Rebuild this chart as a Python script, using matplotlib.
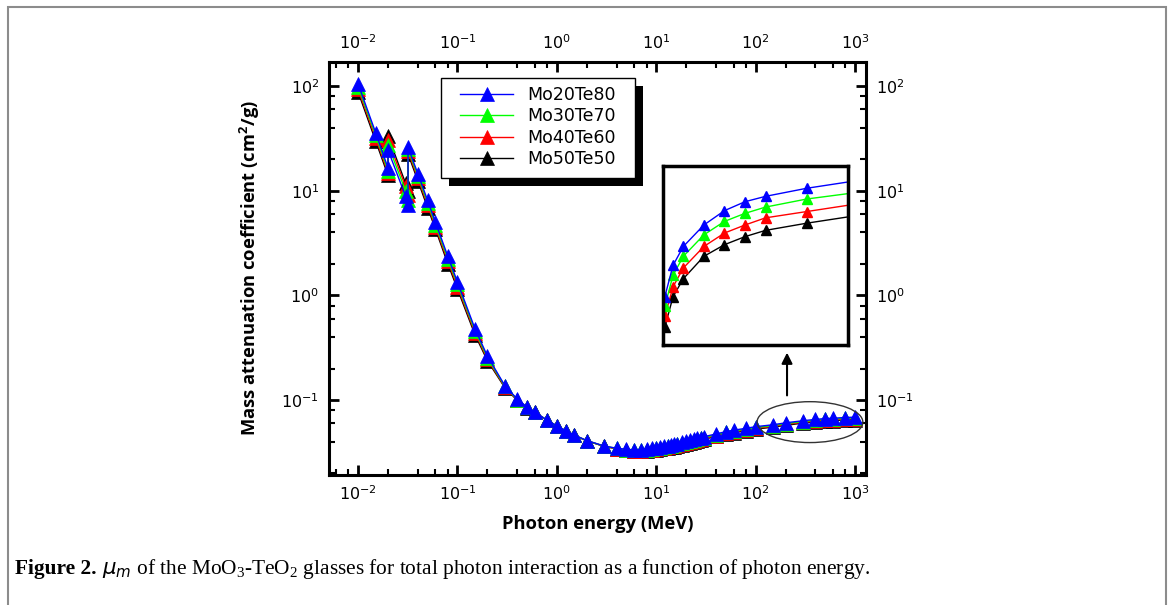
import numpy as np
import matplotlib
matplotlib.use("Agg")
import matplotlib.pyplot as plt
from matplotlib.patches import Rectangle, Ellipse
from matplotlib.ticker import LogLocator, NullFormatter

# ------------------------------
# data
# ------------------------------
energy = [0.01, 0.015, 0.02, 0.02, 0.03, 0.0318, 0.0318, 0.04, 0.05, 0.06, 0.08,
          0.1, 0.15, 0.2, 0.3, 0.4, 0.5, 0.6, 0.8,
          1.0, 1.25, 1.5, 2, 3, 4, 5, 6, 7, 8, 9,
          10, 11, 12, 13, 14, 15, 16,
          18, 20, 22, 24, 26, 28, 30,
          40, 50, 60, 80,
          100, 150, 200, 300, 400, 500, 600, 800, 1000]

mo20te80 = [105, 36, 16.5, 24.5, 8.9, 7.3, 26, 14.5, 8.1, 5.0, 2.36,
            1.34, 0.48, 0.263, 0.137, 0.102, 0.0857, 0.0766, 0.0641,
            0.0566, 0.0505, 0.0462, 0.0410, 0.0363, 0.0346, 0.0338, 0.0334, 0.0335, 0.0340, 0.0345,
            0.0350, 0.0356, 0.0361, 0.0367, 0.0372, 0.0377, 0.0382,
            0.0393, 0.0403, 0.0412, 0.0421, 0.0430, 0.0438, 0.0445,
            0.0474, 0.0498, 0.0515, 0.0536,
            0.0556, 0.0580, 0.0605, 0.0634, 0.0652, 0.0665, 0.0670, 0.0680, 0.0686]

mo30te70 = [99, 34, 15.6, 27.5, 10.0, 8.2, 25, 13.8, 7.7, 4.75, 2.24,
            1.28, 0.46, 0.254, 0.135, 0.101, 0.0854, 0.0764, 0.0640,
            0.0565, 0.0504, 0.0461, 0.0409, 0.0362, 0.0344, 0.0335, 0.0331, 0.0331, 0.0336, 0.0340,
            0.0345, 0.0350, 0.0355, 0.0361, 0.0366, 0.0371, 0.0376,
            0.0386, 0.0396, 0.0405, 0.0414, 0.0422, 0.0430, 0.0437,
            0.0466, 0.0490, 0.0506, 0.0527,
            0.0546, 0.0570, 0.0594, 0.0623, 0.0641, 0.0654, 0.0659, 0.0669, 0.0675]

mo40te60 = [93, 32, 14.8, 30.5, 11.0, 9.1, 23.8, 13.1, 7.3, 4.5, 2.12,
            1.21, 0.44, 0.246, 0.133, 0.100, 0.0850, 0.0762, 0.0639,
            0.0565, 0.0503, 0.0460, 0.0408, 0.0361, 0.0342, 0.0333, 0.0328, 0.0328, 0.0332, 0.0336,
            0.0340, 0.0345, 0.0350, 0.0355, 0.0360, 0.0365, 0.0370,
            0.0379, 0.0389, 0.0398, 0.0406, 0.0414, 0.0422, 0.0429,
            0.0457, 0.0481, 0.0497, 0.0518,
            0.0537, 0.0560, 0.0584, 0.0612, 0.0629, 0.0642, 0.0647, 0.0657, 0.0663]

mo50te50 = [88, 30, 14.0, 33.5, 11.8, 10.0, 22.5, 12.4, 6.9, 4.3, 2.0,
            1.15, 0.42, 0.238, 0.131, 0.099, 0.0846, 0.0760, 0.0638,
            0.0564, 0.0502, 0.0459, 0.0407, 0.0360, 0.0341, 0.0331, 0.0326, 0.0325, 0.0328, 0.0332,
            0.0336, 0.0340, 0.0345, 0.0350, 0.0355, 0.0359, 0.0364,
            0.0373, 0.0382, 0.0391, 0.0399, 0.0407, 0.0414, 0.0421,
            0.0448, 0.0471, 0.0487, 0.0508,
            0.0527, 0.0550, 0.0573, 0.0601, 0.0618, 0.0630, 0.0635, 0.0645, 0.0651]

# inset (zoom of the high energy part, linear axes, no ticks)
inset_x = [10, 50, 100, 200, 300, 400, 500, 700, 900]
inset_mo20te80 = [0.0554, 0.0589, 0.0610, 0.0634, 0.0650, 0.0660, 0.0666, 0.0675, 0.0682]
inset_mo30te70 = [0.0543, 0.0578, 0.0599, 0.0623, 0.0638, 0.0647, 0.0654, 0.0663, 0.0669]
inset_mo40te60 = [0.0532, 0.0565, 0.0586, 0.0610, 0.0625, 0.0634, 0.0642, 0.0649, 0.0656]
inset_mo50te50 = [0.0520, 0.0554, 0.0574, 0.0599, 0.0612, 0.0621, 0.0628, 0.0636, 0.0643]

labels = ["Mo20Te80", "Mo30Te70", "Mo40Te60", "Mo50Te50"]
colors = ["#0000ff", "#00ff00", "#ff0000", "#000000"]

# ------------------------------
# figure
# ------------------------------
plt.rcParams["font.family"] = ["DejaVu Sans"]

fig = plt.figure(figsize=(11.71, 6.05), dpi=100)
ax = fig.add_axes([0.281, 0.2149, 0.4585, 0.6826])

series = [mo20te80, mo30te70, mo40te60, mo50te50]
# black first, blue last (on top)
for vals, lab, col in reversed(list(zip(series, labels, colors))):
    ax.plot(energy, vals, color=col, lw=1.0, marker="^", ms=9.5,
            markeredgewidth=0.5, markeredgecolor=col, label=lab)

ax.set_xscale("log")
ax.set_yscale("log")
ax.set_xlim(0.0051, 1290)
ax.set_ylim(0.0192, 170)

for axis in (ax.xaxis, ax.yaxis):
    axis.set_major_locator(LogLocator(base=10, numticks=20))
    axis.set_minor_locator(LogLocator(base=10, subs=[2, 4, 6, 8], numticks=20))
    axis.set_minor_formatter(NullFormatter())

ax.tick_params(which="both", direction="in", top=True, right=True,
               labeltop=True, labelright=True, labelsize=11.5)
ax.tick_params(which="major", length=7, width=2, pad=7)
ax.tick_params(which="minor", length=4, width=1.5)
for sp in ax.spines.values():
    sp.set_linewidth(2.2)

ax.set_xlabel("Photon energy (MeV)", fontsize=13.2, fontweight="bold",
              family="Open Sans", labelpad=8)
ax.set_ylabel("Mass attenuation coefficient (cm$\\mathregular{^2}$/g)", fontsize=13.2,
              fontweight="bold", family="Open Sans", labelpad=14)

# legend: entries without frame, box and solid black shadow drawn by hand
handles, labs = ax.get_legend_handles_labels()
order = [labs.index(l) for l in labels]
leg = ax.legend([handles[i] for i in order], [labs[i] for i in order],
                loc="upper left", bbox_to_anchor=(0.244, 0.942),
                borderaxespad=0, borderpad=0, frameon=False,
                fontsize=12.5, numpoints=1,
                handlelength=3.05, labelspacing=0.2, handletextpad=0.8)
leg.set_zorder(7)

box_x0, box_x1 = 0.2086, 0.570
box_y0, box_y1 = 0.719, 0.961
ax.add_patch(Rectangle((box_x0 + 0.0149, box_y0 - 0.0194), box_x1 - box_x0, box_y1 - box_y0,
                       transform=ax.transAxes, facecolor="black", edgecolor="none",
                       zorder=5, clip_on=False))
ax.add_patch(Rectangle((box_x0, box_y0), box_x1 - box_x0, box_y1 - box_y0,
                       transform=ax.transAxes, facecolor="white", edgecolor="black",
                       lw=1.0, zorder=6, clip_on=False))

# ellipse round the high energy points and arrow to the inset
ax.add_patch(Ellipse((0.8957, 0.128), 0.197, 0.099, transform=ax.transAxes,
                     fill=False, edgecolor="#333333", lw=1.0, zorder=6))
ax.annotate("", xy=(0.853, 0.303), xytext=(0.853, 0.186), xycoords="axes fraction",
            arrowprops=dict(arrowstyle="-|>", color="black", lw=1.5, mutation_scale=16))

# inset
ax_in = fig.add_axes([0.566, 0.4298, 0.158, 0.296])
inset_series = [inset_mo20te80, inset_mo30te70, inset_mo40te60, inset_mo50te50]
for vals, col in reversed(list(zip(inset_series, colors))):
    ax_in.plot(inset_x, vals, color=col, lw=1.0, marker="^", ms=7.5,
               markevery=slice(0, len(inset_x) - 1))
ax_in.set_xlim(0, 900)
ax_in.set_ylim(0.050, 0.070)
ax_in.set_xticks([])
ax_in.set_yticks([])
for sp in ax_in.spines.values():
    sp.set_linewidth(2.5)

# caption and outer frame
fig.patches.append(Rectangle((8 / 1171, -0.05), 1158 / 1171, 1 + 0.05 - 7 / 605,
                             transform=fig.transFigure, fill=False,
                             edgecolor="#8c8c8c", lw=1.5))

cap_y = 0.052
cap1 = fig.text(0.0128, cap_y, "Figure 2.", fontsize=15.4, fontweight="bold",
                family="Liberation Serif", va="baseline")

fig.canvas.draw()
r = fig.canvas.get_renderer()
bb = cap1.get_window_extent(r)
x_next = (bb.x1 + 5) / fig.bbox.width
fig.text(x_next, cap_y,
         "$\\mu_m$ of the MoO$\\mathregular{_3}$-TeO$\\mathregular{_2}$ glasses for total "
         "photon interaction as a function of photon energy.",
         fontsize=15.4, family="Liberation Serif", va="baseline")

fig.savefig("out.png", dpi=100)
